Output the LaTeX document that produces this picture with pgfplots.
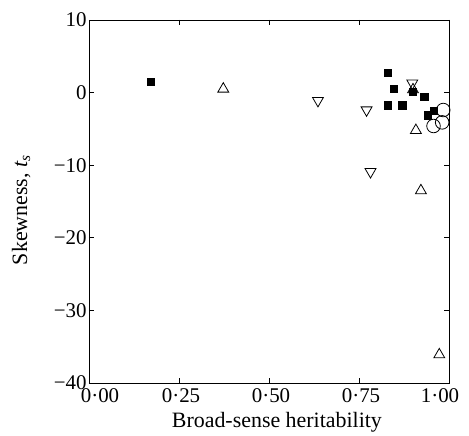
\documentclass[border=0pt]{standalone}
\usepackage{fontspec}
\setmainfont{Liberation Serif}
\usepackage{pgfplots}
\pgfplotsset{compat=1.18}
\begin{document}
\begin{tikzpicture}
\begin{axis}[
  scale only axis,
  width=360bp, height=363bp,
  xmin=0, xmax=1, ymin=-40, ymax=10,
  xtick={0,0.25,0.5,0.75,1},
  xticklabels={\textrm{\hspace*{18bp}0·00},\textrm{0·25},\textrm{0·50},\textrm{0·75},\textrm{1·00\hspace*{22bp}}},
  ytick={-40,-30,-20,-10,0,10},
  yticklabels={\textrm{−40},\textrm{−30},\textrm{−20},\textrm{−10},\textrm{0},\textrm{10}},
  tick align=inside,
  major tick length=5bp,
  tick style={black, line width=0.8bp},
  axis line style={line width=0.9bp},
  tick label style={font=\fontsize{21}{24}\selectfont},
  xticklabel style={anchor=base, yshift=-19bp, xshift=2bp},
  yticklabel style={xshift=1bp},
  label style={font=\fontsize{22}{26}\selectfont},
  xlabel={Broad-sense heritability},
  ylabel={Skewness, \textit{t}\textsubscript{\textit{s}}},
  xlabel style={at={(axis description cs:0.522,-0.123)}, anchor=base},
  ylabel style={at={(axis description cs:-0.172,0.477)}, anchor=base, rotate=0},
  clip=false,
]
% filled squares
\addplot[only marks, mark=square*, mark size=3.6bp, mark options={fill=black, draw=black}] coordinates {
 (0.171,1.5) (0.829,2.7) (0.847,0.55) (0.829,-1.74) (0.870,-1.74)
 (0.900,0.1) (0.931,-0.6) (0.941,-3.1) (0.957,-2.5)
};
% open triangles up
\addplot[only marks, mark=triangle, mark size=6.3bp, mark options={draw=black, fill=none, line width=0.8bp}] coordinates {
 (0.373,0.5) (0.900,0.4) (0.908,-5.2) (0.922,-13.5) (0.973,-36.1)
};
% open triangles down
\addplot[only marks, mark=triangle, mark size=6.3bp, mark options={rotate=180, draw=black, fill=none, line width=0.8bp}] coordinates {
 (0.636,-1.1) (0.771,-2.4) (0.782,-10.9) (0.898,1.3)
};
% open circles
\addplot[only marks, mark=o, mark size=6.8bp, mark options={draw=black, line width=0.8bp}] coordinates {
 (0.984,-2.4) (0.957,-4.6) (0.981,-4.1)
};
\end{axis}
\pgfresetboundingbox
\path[use as bounding box] (-89bp,-53bp) rectangle (380bp,383bp);
\end{tikzpicture}
\end{document}
